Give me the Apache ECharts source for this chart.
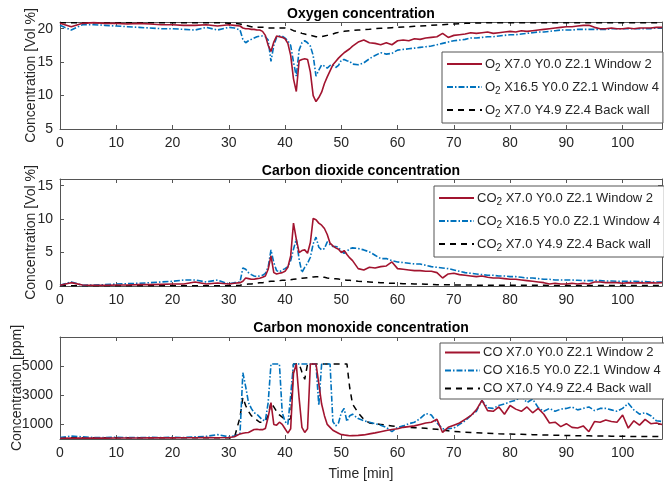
<!DOCTYPE html>
<html>
<head>
<meta charset="utf-8">
<script src="https://cdn.jsdelivr.net/npm/echarts@6/dist/echarts.min.js"></script>
<style>
html, body { margin: 0; padding: 0; background: #fff; }
#main { width: 664px; height: 482px; }
</style>
</head>
<body>
<div id="main"></div>
<script>
// sample times [min]
const minutes = [0, 2, 4, 6, 8, 10, 12, 14, 16, 18, 20, 22, 24, 26, 28, 30, 31,
  32, 32.5, 33, 33.5, 34, 34.5, 35, 35.5, 36, 36.5, 37, 37.5, 38, 38.5, 39, 39.5, 40, 40.5, 41, 41.5,
  42, 42.5, 43, 43.5, 44, 44.5, 45, 45.5, 46, 46.5, 47, 47.5, 48, 48.5, 49, 49.5, 50, 50.5, 51, 51.5, 52,
  53, 54, 55, 56, 57, 58, 59, 60, 61, 62, 63, 64, 65, 66, 67, 68, 69, 70, 71, 72, 73, 74, 75, 76, 77, 78, 79,
  80, 81, 82, 83, 84, 85, 86, 87, 88, 89, 90, 91, 92, 93, 94, 95, 96, 97, 98, 99, 100, 101, 102, 103, 104, 105, 106, 107];

// legend labels
const o2Names = ["O2 X7.0 Y0.0 Z2.1 Window 2", "O2 X16.5 Y0.0 Z2.1 Window 4", "O2 X7.0 Y4.9 Z2.4 Back wall"];
const co2Names = ["CO2 X7.0 Y0.0 Z2.1 Window 2", "CO2 X16.5 Y0.0 Z2.1 Window 4", "CO2 X7.0 Y4.9 Z2.4 Back wall"];
const coNames = ["CO X7.0 Y0.0 Z2.1 Window 2", "CO X16.5 Y0.0 Z2.1 Window 4", "CO X7.0 Y4.9 Z2.4 Back wall"];
const titles = ["Oxygen concentration", "Carbon dioxide concentration", "Carbon monoxide concentration"];

// O2 [Vol %]
const o2Win2 = [20.8, 20.3, 20.8, 20.9, 20.8, 20.8, 20.7, 20.8, 20.7, 20.6, 20.6, 20.5, 20.5, 20.6, 20.4, 20.6, 20.5,
  20.4, 20.1, 20.0, 20.0, 19.9, 19.9, 19.8, 19.8, 19.6, 19.0, 17.5, 16.6, 18.0, 18.9, 18.8, 18.7, 18.5, 17.8, 16.0, 12.5,
  10.6, 15.2, 15.4, 15.5, 15.4, 13.5, 10.0, 9.1, 9.7, 10.5, 11.8, 12.8, 13.7, 14.6, 15.1, 15.6, 16.0, 16.4, 16.7, 17.0, 17.4,
  18.0, 18.3, 17.9, 17.8, 17.6, 17.9, 17.6, 18.2, 18.3, 18.2, 18.5, 18.4, 18.6, 18.7, 18.8, 19.3, 18.7, 19.0, 19.1, 19.2, 19.4, 19.3, 19.4, 19.5, 19.3, 19.4, 19.5,
  19.6, 19.5, 19.7, 19.6, 19.7, 19.8, 19.9, 20.0, 20.1, 20.2, 20.3, 20.3, 20.4, 20.5, 20.5, 20.2, 20.0, 20.0, 20.1, 20.0, 20.0, 20.1, 20.0, 20.1, 20.1, 20.1, 20.2, 20.2];
const o2Win4 = [20.5, 19.8, 20.6, 20.6, 20.5, 20.4, 20.3, 20.2, 20.1, 20.0, 20.0, 19.9, 19.8, 20.2, 19.8, 20.2, 20.1,
  19.8, 18.4, 17.9, 18.2, 18.4, 18.6, 18.8, 18.9, 18.9, 18.8, 18.3, 15.1, 17.5, 18.7, 18.9, 18.9, 18.6, 18.2, 17.5, 15.0,
  12.9, 16.8, 17.9, 18.2, 17.9, 17.4, 16.0, 12.9, 13.8, 14.6, 14.4, 14.1, 14.5, 14.6, 14.2, 14.5, 15.3, 15.4, 15.2, 15.1, 14.7,
  14.6, 14.9, 15.5, 16.0, 16.4, 16.2, 16.3, 16.8, 16.9, 17.0, 17.1, 17.2, 17.3, 17.4, 17.6, 17.8, 18.0, 18.2, 18.3, 18.4, 18.6, 18.6, 18.7, 18.8, 18.8, 18.9, 19.0,
  19.1, 19.1, 19.2, 19.3, 19.4, 19.5, 19.5, 19.6, 19.7, 19.8, 19.8, 19.8, 19.9, 19.9, 19.9, 19.9, 19.9, 19.9, 20.0, 20.0, 20.0, 20.0, 20.0, 20.0, 20.0, 20.0, 20.1, 20.1];
const o2Back = [20.9, 20.9, 20.9, 20.9, 20.9, 20.9, 20.9, 20.9, 20.9, 20.9, 20.9, 20.9, 20.9, 20.9, 20.9, 20.8, 20.8,
  20.7, 20.6, 20.5, 20.4, 20.3, 20.2, 20.2, 20.2, 20.2, 20.2, 20.1, 20.1, 20.1, 20.1, 20.1, 20.1, 20.1, 20.0, 19.9, 19.7,
  19.6, 19.5, 19.3, 19.2, 19.1, 19.0, 18.9, 18.8, 18.75, 18.8, 18.9, 19.0, 19.1, 19.2, 19.35, 19.45, 19.5, 19.6, 19.65, 19.7, 19.75,
  19.8, 19.85, 19.9, 20.0, 20.05, 20.1, 20.15, 20.2, 20.25, 20.3, 20.35, 20.4, 20.45, 20.5, 20.55, 20.6, 20.65, 20.7, 20.75, 20.8, 20.8, 20.85, 20.85, 20.9, 20.9, 20.9, 20.9,
  20.9, 20.9, 20.9, 20.9, 20.9, 20.9, 20.9, 20.9, 20.9, 20.9, 20.9, 20.9, 20.9, 20.9, 20.9, 20.9, 20.9, 20.9, 20.9, 20.9, 20.9, 20.9, 20.9, 20.9, 20.9, 20.9, 20.9, 20.9];

// CO2 [Vol %]
const co2Win2 = [0.1, 0.5, 0.15, 0.1, 0.1, 0.15, 0.15, 0.2, 0.2, 0.25, 0.3, 0.3, 0.6, 0.3, 0.45, 0.3, 0.4,
  0.5, 0.7, 1.2, 1.1, 1.0, 1.0, 1.1, 1.15, 1.3, 1.5, 2.5, 4.5, 2.0, 1.8, 1.9, 2.0, 2.2, 2.8, 4.5, 9.4,
  7.0, 5.0, 5.3, 5.4, 4.9, 6.5, 10.1, 9.9, 9.4, 9.1, 8.6, 7.7, 6.4, 6.0, 5.7, 5.5, 5.0, 5.3, 4.7, 4.2, 3.8,
  2.6, 2.4, 2.8, 2.7, 2.9, 3.0, 3.6, 2.6, 2.5, 2.4, 2.3, 2.3, 2.2, 2.2, 2.0, 1.2, 1.8, 1.9, 1.7, 1.6, 1.5, 1.4, 1.5, 1.3, 1.2, 1.2, 1.1,
  1.0, 1.0, 0.9, 0.8, 0.7, 0.6, 0.5, 0.3, 0.4, 0.3, 0.3, 0.4, 0.3, 0.4, 0.3, 0.6, 0.6, 0.5, 0.5, 0.5, 0.4, 0.5, 0.45, 0.5, 0.45, 0.5, 0.45, 0.5];
const co2Win4 = [0.1, 0.6, 0.1, 0.15, 0.2, 0.3, 0.35, 0.4, 0.5, 0.6, 0.7, 0.9, 0.9, 0.6, 0.9, 0.3, 0.5,
  0.6, 2.7, 2.5, 2.0, 1.7, 1.5, 1.4, 1.5, 1.6, 1.9, 2.8, 5.4, 3.5, 2.3, 2.1, 2.4, 2.6, 2.9, 3.8, 5.5,
  7.0, 4.0, 2.0, 2.8, 3.4, 4.3, 6.3, 7.3, 5.8, 5.4, 5.6, 6.6, 6.2, 5.9, 5.9, 5.8, 5.2, 4.9, 5.2, 5.6, 5.7,
  5.6, 5.4, 5.1, 4.6, 4.1, 4.1, 3.8, 3.6, 3.5, 3.4, 3.3, 3.3, 3.1, 2.9, 2.8, 2.7, 2.6, 2.4, 2.2, 2.0, 1.9, 1.8, 1.7, 1.6, 1.6, 1.5, 1.5,
  1.4, 1.4, 1.3, 1.2, 1.2, 1.1, 1.0, 1.0, 0.9, 0.9, 0.9, 0.9, 0.85, 0.8, 0.8, 0.8, 0.8, 0.75, 0.75, 0.7, 0.7, 0.7, 0.7, 0.65, 0.65, 0.6, 0.6, 0.6];
const co2Back = [0.05, 0.05, 0.05, 0.05, 0.05, 0.05, 0.05, 0.05, 0.05, 0.05, 0.05, 0.05, 0.05, 0.05, 0.05, 0.05, 0.05,
  0.1, 0.2, 0.25, 0.3, 0.3, 0.35, 0.45, 0.5, 0.5, 0.55, 0.65, 0.7, 0.7, 0.75, 0.8, 0.85, 0.85, 0.9, 0.95, 1.0,
  1.05, 1.1, 1.15, 1.2, 1.25, 1.3, 1.35, 1.4, 1.4, 1.35, 1.3, 1.2, 1.15, 1.1, 1.1, 1.05, 0.95, 0.9, 0.85, 0.85, 0.8,
  0.7, 0.65, 0.6, 0.55, 0.5, 0.45, 0.4, 0.4, 0.35, 0.35, 0.3, 0.3, 0.25, 0.25, 0.2, 0.2, 0.2, 0.15, 0.15, 0.15, 0.15, 0.12, 0.12, 0.12, 0.1, 0.1, 0.1,
  0.1, 0.1, 0.1, 0.1, 0.1, 0.1, 0.1, 0.08, 0.08, 0.08, 0.08, 0.08, 0.08, 0.08, 0.08, 0.08, 0.08, 0.08, 0.08, 0.08, 0.08, 0.08, 0.08, 0.08, 0.08, 0.08, 0.08, 0.08];

// CO [ppm]
const coWin2 = [50, 60, 60, 60, 60, 70, 70, 70, 80, 80, 80, 90, 90, 100, 90, 100, 150,
  350, 400, 430, 450, 550, 650, 670, 640, 640, 720, 1500, 2500, 1000, 950, 1150, 1000, 700, 400, 700, 4500,
  5150, 2800, 800, 450, 700, 5150, 5150, 5150, 3800, 2400, 1600, 1000, 800, 600, 500, 400, 300, 280, 250, 220, 230,
  250, 280, 350, 420, 500, 580, 650, 700, 800, 850, 900, 1000, 1100, 1150, 1350, 450, 800, 950, 1100, 1350, 1600, 2000, 2650, 1950, 1900, 2200, 1700,
  2300, 2050, 1900, 2200, 1800, 2100, 1700, 1100, 1150, 850, 1050, 800, 750, 900, 500, 1200, 1150, 1300, 1200, 1150, 1650, 750, 1250, 950, 1350, 1050, 1100, 1000];
const coWin4 = [100, 200, 150, 100, 100, 120, 100, 100, 110, 100, 120, 100, 150, 180, 300, 150, 200,
  400, 4550, 3600, 2500, 2100, 1800, 1700, 1500, 1300, 1250, 2500, 5150, 5150, 5150, 5150, 1800, 1200, 1000, 3000, 5150,
  5150, 5150, 5150, 5150, 5150, 5150, 5150, 5150, 2300, 5150, 5150, 5150, 5150, 1200, 900, 1100, 1800, 2100, 1200, 1600, 1700,
  1400, 1250, 1150, 1050, 950, 800, 500, 800, 900, 1050, 1150, 1400, 1750, 1650, 1100, 700, 700, 750, 1000, 1250, 1600, 1900, 2650, 2150, 2100, 2300, 2400,
  2550, 2650, 2950, 2500, 2750, 2150, 1900, 2100, 1900, 2050, 2100, 2200, 2000, 2100, 2200, 1950, 2100, 2100, 2000, 1900, 2100, 2450, 2000, 1700, 1800, 1600, 1250, 1200];
const coBack = [80, 90, 80, 80, 80, 90, 80, 80, 80, 90, 80, 80, 90, 80, 90, 80, 100,
  1500, 2850, 2300, 1900, 1600, 1450, 1300, 1150, 1150, 1250, 1600, 2500, 2200, 1900, 1650, 1500, 1350, 1300, 1400, 5150,
  5150, 5150, 4600, 4100, 5150, 5150, 5150, 5150, 5150, 5150, 5150, 5150, 5150, 5150, 5150, 5150, 5150, 5150, 5150, 3500, 2400,
  1800, 1350, 1100, 1050, 1000, 950, 900, 850, 820, 800, 780, 760, 730, 700, 670, 600, 560, 520, 490, 470, 450, 430, 410, 400, 380, 360, 350,
  340, 330, 320, 310, 300, 290, 280, 270, 260, 250, 240, 230, 225, 220, 215, 210, 205, 200, 195, 190, 185, 180, 178, 175, 172, 170, 168, 165];

// tick labels
const timeTicks = [0, 10, 20, 30, 40, 50, 60, 70, 80, 90, 100];
const o2Ticks = [5, 10, 15, 20];
const co2Ticks = [0, 5, 10, 15];
const coTicks = [1000, 3000, 5000];

const chart = echarts.init(document.getElementById("main"));
const axisColor = "#555";
const textColor = "#262626";
const font = "Liberation Sans";

const panels = [
  { top: 22, yMin: 5, yMax: 21, ticks: o2Ticks, yName: "Concentration [Vol %]", nameGap: 22, titleTop: 7,
    names: o2Names, values: [o2Win2, o2Win4, o2Back], legendLeft: 442, legendTop: 52 },
  { top: 179, yMin: 0, yMax: 16, ticks: co2Ticks, yName: "Concentration [Vol %]", nameGap: 22, titleTop: 164,
    names: co2Names, values: [co2Win2, co2Win4, co2Back], legendLeft: 434, legendTop: 186 },
  { top: 337, yMin: 0, yMax: 7000, ticks: coTicks, yName: "Concentration [ppm]", nameGap: 36, titleTop: 321,
    names: coNames, values: [coWin2, coWin4, coBack], legendLeft: 440, legendTop: 343 }
];

const lineStyles = [
  { color: "#A2142F", width: 1.6, type: "solid" },
  { color: "#0072BD", width: 1.6, type: [6, 2, 1.5, 2] },
  { color: "#000000", width: 1.5, type: [6, 5] }
];

const boxLine = { show: true, onZero: false, lineStyle: { color: axisColor, width: 1 } };

let grid = [], xAxis = [], yAxis = [], series = [], legend = [], title = [];

panels.forEach((p, g) => {
  grid.push({ left: 60, right: 2, top: p.top, height: 107 });
  title.push({
    text: titles[g], left: 361, top: p.titleTop, textAlign: "center", padding: 0,
    textStyle: { fontFamily: font, fontSize: 14, fontWeight: "bold", color: "#000" }
  });
  // bottom + top x axes (box)
  xAxis.push({
    type: "value", gridIndex: g, min: 0, max: 107, position: "bottom",
    axisLine: boxLine,
    axisTick: { inside: true, length: 4, customValues: timeTicks, lineStyle: { color: axisColor } },
    axisLabel: { customValues: timeTicks, color: textColor, fontFamily: font, fontSize: 14, margin: 7 },
    splitLine: { show: false },
    name: g === 2 ? "Time [min]" : "", nameLocation: "middle", nameGap: 28, nameMoveOverlap: false,
    nameTextStyle: { color: textColor, fontFamily: font, fontSize: 14 }
  });
  xAxis.push({
    type: "value", gridIndex: g, min: 0, max: 107, position: "top",
    axisLine: boxLine,
    axisTick: { inside: true, length: 4, customValues: timeTicks, lineStyle: { color: axisColor } },
    axisLabel: { show: false }, splitLine: { show: false }
  });
  // left + right y axes
  yAxis.push({
    type: "value", gridIndex: g, min: p.yMin, max: p.yMax, position: "left",
    axisLine: boxLine,
    axisTick: { inside: true, length: 4, customValues: p.ticks, lineStyle: { color: axisColor } },
    axisLabel: { customValues: p.ticks, formatter: v => String(v), color: textColor, fontFamily: font, fontSize: 14, margin: 7 },
    splitLine: { show: false },
    name: p.yName, nameLocation: "middle", nameGap: p.nameGap, nameMoveOverlap: false,
    nameTextStyle: { color: textColor, fontFamily: font, fontSize: 14 }
  });
  yAxis.push({
    type: "value", gridIndex: g, min: p.yMin, max: p.yMax, position: "right",
    axisLine: boxLine,
    axisTick: { inside: true, length: 4, customValues: p.ticks, lineStyle: { color: axisColor } },
    axisLabel: { show: false }, splitLine: { show: false }
  });

  p.names.forEach((name, k) => {
    series.push({
      name: name, type: "line", xAxisIndex: 2 * g, yAxisIndex: 2 * g,
      showSymbol: false, symbol: "none",
      lineStyle: lineStyles[k], itemStyle: { color: lineStyles[k].color },
      z: 3 - k,
      data: minutes.map((t, i) => [t, p.values[k][i]])
    });
  });

  legend.push({
    data: p.names, orient: "vertical", left: p.legendLeft, top: p.legendTop,
    itemWidth: 35, itemHeight: 10, itemGap: 5, selectedMode: false,
    itemStyle: { opacity: 0 },
    backgroundColor: "#fff", borderColor: axisColor, borderWidth: 1, borderRadius: 0,
    padding: [3, 4, 4, 4],
    formatter: function(n) {
      let m = n.match(/^(C?O)2 (.*)$/);
      if (m) return "{t|" + m[1] + "}{s|2}{t| " + m[2] + "}";
      return "{t|" + n + "}";
    },
    textStyle: {
      fontFamily: font, color: textColor, padding: [0, 0, 0, -2],
      rich: {
        t: { fontFamily: font, fontSize: 13, color: textColor, lineHeight: 14 },
        s: { fontFamily: font, fontSize: 10, color: textColor, padding: [8, 0, 0, 0], lineHeight: 10 }
      }
    }
  });
});

chart.setOption({
  animation: false,
  backgroundColor: "#fff",
  title: title,
  grid: grid,
  xAxis: xAxis,
  yAxis: yAxis,
  legend: legend,
  series: series
});
</script>
</body>
</html>
